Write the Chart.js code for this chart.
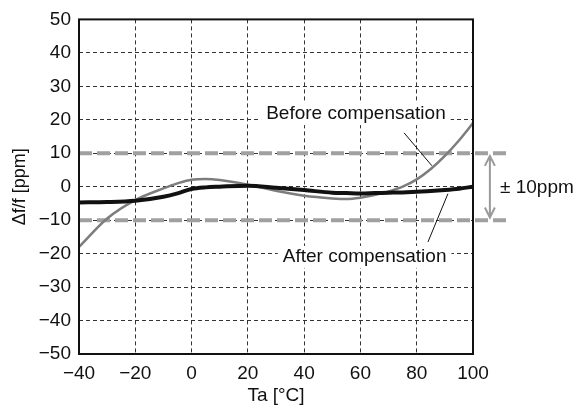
<!DOCTYPE html>
<html>
<head>
<meta charset="utf-8">
<script src="https://cdn.jsdelivr.net/npm/chart.js@4"></script>
<style>
  html, body { margin: 0; padding: 0; background: #fff; }
  #wrap { width: 576px; height: 408px; }
</style>
</head>
<body>
<div id="wrap"><canvas id="freqChart" width="576" height="408"></canvas></div>
<script>
// temperature points (°C)
const temps = [-40, -30, -20, -10, -5, 0, 5, 10, 20, 30, 40, 50, 55, 60, 65, 70, 75, 80, 85, 90, 95, 100];
// Δf/f before compensation (ppm)
const beforeComp = [-18, -9.5, -4, -0.5, 1, 2.1, 2.3, 2, 0.6, -1.2, -2.7, -3.5, -3.7, -3.3, -2.5, -1.4, 0, 2.2, 5.3, 9.2, 13.8, 19];
// Δf/f after compensation (ppm)
const afterComp = [-4.7, -4.6, -4.2, -3, -2, -0.7, -0.2, 0, 0.3, -0.3, -1, -1.8, -1.9, -2, -1.9, -1.8, -1.7, -1.5, -1.3, -1, -0.6, 0];

const xTicks = [-40, -20, 0, 20, 40, 60, 80, 100];
const yTicks = [-50, -40, -30, -20, -10, 0, 10, 20, 30, 40, 50];
const limitPpm = 10;

const FONT = "'Liberation Sans', Arial, Helvetica, sans-serif";
const minus = (v) => String(v).replace("-", "\u2212");

const toPoints = (ys) => temps.map((t, i) => ({ x: t, y: ys[i] }));

// frame, ±10ppm arrow and callout labels
const decorations = {
  id: "decorations",
  afterDatasetsDraw(chart) {
    const { ctx, chartArea: a, scales: { x, y } } = chart;
    ctx.save();

    // callout labels with white boxes
    ctx.font = "19px " + FONT;
    ctx.textBaseline = "middle";
    const labels = [
      { text: "Before compensation", x: 26.5, y: 21.7, line: [[75.5, 16.1], [85.4, 6.25]] },
      { text: "After compensation", x: 32.4, y: -21, line: [[91.1, -2.1], [84, -16.5]] },
    ];
    labels.forEach((l) => {
      const px = x.getPixelForValue(l.x);
      const py = y.getPixelForValue(l.y);
      const w = ctx.measureText(l.text).width;
      ctx.fillStyle = "#fff";
      ctx.fillRect(px - 5, py - 11, w + 10, 22);
      ctx.fillStyle = "#111";
      ctx.textAlign = "left";
      ctx.fillText(l.text, px, py);
      ctx.strokeStyle = "#111";
      ctx.lineWidth = 1;
      ctx.beginPath();
      ctx.moveTo(x.getPixelForValue(l.line[0][0]), y.getPixelForValue(l.line[0][1]));
      ctx.lineTo(x.getPixelForValue(l.line[1][0]), y.getPixelForValue(l.line[1][1]));
      ctx.stroke();
    });

    // frame
    ctx.strokeStyle = "#111";
    ctx.lineWidth = 2;
    ctx.strokeRect(a.left, a.top, a.right - a.left, a.bottom - a.top);

    // ±10ppm double arrow
    const ax = x.getPixelForValue(106);
    const top = y.getPixelForValue(limitPpm - 0.8);
    const bot = y.getPixelForValue(-limitPpm + 0.8);
    ctx.strokeStyle = "#9a9a9a";
    ctx.lineWidth = 2;
    ctx.beginPath();
    ctx.moveTo(ax, top);
    ctx.lineTo(ax, bot);
    ctx.moveTo(ax - 5, top + 10);
    ctx.lineTo(ax, top);
    ctx.lineTo(ax + 5, top + 10);
    ctx.moveTo(ax - 5, bot - 10);
    ctx.lineTo(ax, bot);
    ctx.lineTo(ax + 5, bot - 10);
    ctx.stroke();

    ctx.fillStyle = "#111";
    ctx.font = "19px " + FONT;
    ctx.textAlign = "left";
    ctx.fillText("\u00b1 10ppm", x.getPixelForValue(109.6), y.getPixelForValue(0) + 1);
    ctx.restore();
  },
};

const ctx = document.getElementById("freqChart").getContext("2d");

new Chart(ctx, {
  type: "line",
  data: {
    datasets: [
      {
        data: toPoints(afterComp),
        borderColor: "#111",
        borderWidth: 4,
        pointRadius: 0,
        tension: 0.4,
        cubicInterpolationMode: "monotone",
        order: 1,
      },
      {
        data: toPoints(beforeComp),
        borderColor: "#7d7d7d",
        borderWidth: 2.5,
        pointRadius: 0,
        cubicInterpolationMode: "monotone",
        order: 2,
      },
      {
        data: [{ x: -40, y: limitPpm }, { x: 113, y: limitPpm }],
        borderColor: "#a0a0a0",
        borderWidth: 4,
        borderDash: [13, 5],
        pointRadius: 0,
        clip: false,
        order: 3,
      },
      {
        data: [{ x: -40, y: -limitPpm }, { x: 113, y: -limitPpm }],
        borderColor: "#a0a0a0",
        borderWidth: 4,
        borderDash: [13, 5],
        pointRadius: 0,
        clip: false,
        order: 3,
      },
    ],
  },
  options: {
    responsive: false,
    animation: false,
    layout: { padding: { top: 18, right: 103, left: 0, bottom: 0 } },
    plugins: { legend: { display: false }, tooltip: { enabled: false } },
    scales: {
      x: {
        type: "linear",
        min: -40,
        max: 100,
        afterBuildTicks: (scale) => { scale.ticks = xTicks.map((v) => ({ value: v })); },
        afterFit: (scale) => { scale.height = 54; },
        grid: {
          drawTicks: false,
          color: "#333",
          lineWidth: 1,
          tickBorderDash: [4, 3],
        },
        border: { display: false, dash: [4, 3] },
        ticks: {
          padding: 8,
          color: "#111",
          font: { family: FONT, size: 19 },
          callback: (v) => minus(v),
        },
        title: {
          display: true,
          text: "Ta [\u00b0C]",
          color: "#111",
          font: { family: FONT, size: 19 },
          padding: { top: 0, bottom: 1 },
        },
      },
      y: {
        min: -50,
        max: 50,
        afterBuildTicks: (scale) => { scale.ticks = yTicks.map((v) => ({ value: v })); },
        afterFit: (scale) => { scale.width = 79; },
        grid: {
          drawTicks: false,
          color: "#333",
          lineWidth: 1,
        },
        border: { display: false, dash: [4, 3] },
        ticks: {
          padding: 8,
          color: "#111",
          font: { family: FONT, size: 19 },
          callback: (v) => minus(v),
        },
        title: {
          display: true,
          text: "\u0394f/f [ppm]",
          color: "#111",
          font: { family: FONT, size: 18 },
          padding: { top: 9, bottom: 0 },
        },
      },
    },
  },
  plugins: [decorations],
});
</script>
</body>
</html>
